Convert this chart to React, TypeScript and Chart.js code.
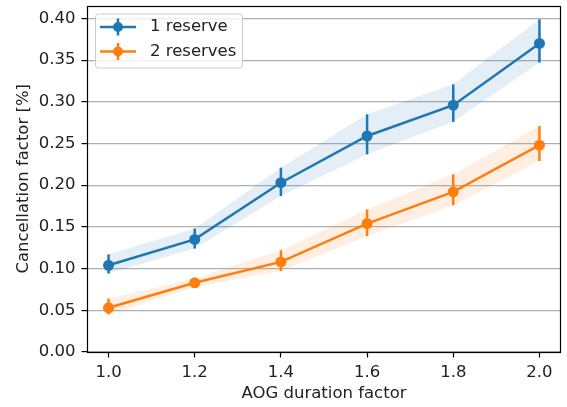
import React, { useEffect, useRef } from "react";
import { Chart, registerables } from "chart.js";

Chart.register(...registerables);

const aogFactors = [1.0, 1.2, 1.4, 1.6, 1.8, 2.0];
const reserve1Mean = [0.104, 0.135, 0.203, 0.259, 0.296, 0.37];
const reserve1Lower = [0.094, 0.124, 0.187, 0.237, 0.276, 0.347];
const reserve1Upper = [0.117, 0.148, 0.221, 0.285, 0.321, 0.399];
const reserve2Mean = [0.053, 0.083, 0.108, 0.154, 0.192, 0.248];
const reserve2Lower = [0.045, 0.078, 0.097, 0.139, 0.176, 0.229];
const reserve2Upper = [0.064, 0.088, 0.122, 0.171, 0.213, 0.271];
const xTickValues = [1.0, 1.2, 1.4, 1.6, 1.8, 2.0];
const yTickValues = [0, 0.05, 0.1, 0.15, 0.2, 0.25, 0.3, 0.35, 0.4];
const seriesLabels = ["1 reserve", "2 reserves"];

const BLUE = "#1f77b4";
const ORANGE = "#ff7f0e";
const FONT = "'DejaVu Sans', sans-serif";
const FS = 16.5;

const pts = (ys: number[]) => aogFactors.map((x, i) => ({ x, y: ys[i] }));

export default function App() {
  const ref = useRef<HTMLCanvasElement | null>(null);
  useEffect(() => {
    if (!ref.current) return;
    const errorSets = [
      { lo: reserve1Lower, hi: reserve1Upper, color: BLUE },
      { lo: reserve2Lower, hi: reserve2Upper, color: ORANGE },
    ];
    const errorPlugin = {
      id: "errbars",
      afterDatasetsDraw(chart: any) {
        const ctx = chart.ctx;
        const xs = chart.scales.x;
        const ys = chart.scales.y;
        ctx.save();
        ctx.lineWidth = 2.5;
        errorSets.forEach((s) => {
          ctx.strokeStyle = s.color;
          aogFactors.forEach((x, i) => {
            const px = xs.getPixelForValue(x);
            ctx.beginPath();
            ctx.moveTo(px, ys.getPixelForValue(s.lo[i]));
            ctx.lineTo(px, ys.getPixelForValue(s.hi[i]));
            ctx.stroke();
          });
        });
        ctx.restore();
      },
      afterDraw(chart: any) {
        const ctx = chart.ctx;
        const a = chart.chartArea;
        ctx.save();
        ctx.strokeStyle = "#000";
        ctx.lineWidth = 1.2;
        ctx.strokeRect(Math.round(a.left) + 0.5, Math.round(a.top) + 0.5, Math.round(a.right - a.left) - 1, Math.round(a.bottom - a.top) - 1);
        // legend
        const bx = a.left + 8.5, by = a.top + 8.5, bw = 147, bh = 54, r = 3;
        ctx.beginPath();
        ctx.moveTo(bx + r, by);
        ctx.lineTo(bx + bw - r, by);
        ctx.quadraticCurveTo(bx + bw, by, bx + bw, by + r);
        ctx.lineTo(bx + bw, by + bh - r);
        ctx.quadraticCurveTo(bx + bw, by + bh, bx + bw - r, by + bh);
        ctx.lineTo(bx + r, by + bh);
        ctx.quadraticCurveTo(bx, by + bh, bx, by + bh - r);
        ctx.lineTo(bx, by + r);
        ctx.quadraticCurveTo(bx, by, bx + r, by);
        ctx.closePath();
        ctx.fillStyle = "rgba(255,255,255,0.8)";
        ctx.fill();
        ctx.strokeStyle = "#cccccc";
        ctx.lineWidth = 1;
        ctx.stroke();
        const rows = [
          { y: by + 13, color: BLUE, label: seriesLabels[0] },
          { y: by + 37.5, color: ORANGE, label: seriesLabels[1] },
        ];
        rows.forEach((row) => {
          ctx.strokeStyle = row.color;
          ctx.fillStyle = row.color;
          ctx.lineWidth = 2.5;
          ctx.beginPath();
          ctx.moveTo(bx + 4.5, row.y);
          ctx.lineTo(bx + 40.5, row.y);
          ctx.moveTo(bx + 22.5, row.y - 8.5);
          ctx.lineTo(bx + 22.5, row.y + 8.5);
          ctx.stroke();
          ctx.beginPath();
          ctx.arc(bx + 22.5, row.y, 5, 0, Math.PI * 2);
          ctx.fill();
          ctx.fillStyle = "#222";
          ctx.font = `${FS}px ${FONT}`;
          ctx.textBaseline = "middle";
          ctx.textAlign = "left";
          ctx.fillText(row.label, bx + 54.5, row.y);
        });
        ctx.restore();
      },
    };
    const bandStyle = (color: string) => ({
      borderWidth: 0,
      pointRadius: 0,
      borderColor: "transparent",
      backgroundColor: color,
    });
    const chart = new Chart(ref.current, {
      type: "line",
      data: {
        datasets: [
          { label: "b1lo", data: pts(reserve1Lower), fill: false, ...bandStyle("rgba(31,119,180,0.12)") },
          { label: "b1hi", data: pts(reserve1Upper), fill: "-1", ...bandStyle("rgba(31,119,180,0.12)") },
          { label: "b2lo", data: pts(reserve2Lower), fill: false, ...bandStyle("rgba(255,127,14,0.12)") },
          { label: "b2hi", data: pts(reserve2Upper), fill: "-1", ...bandStyle("rgba(255,127,14,0.12)") },
          {
            label: seriesLabels[0],
            data: pts(reserve1Mean),
            borderColor: BLUE,
            backgroundColor: BLUE,
            borderWidth: 2.5,
            pointRadius: 5.5,
            pointBorderWidth: 0,
            fill: false,
          },
          {
            label: seriesLabels[1],
            data: pts(reserve2Mean),
            borderColor: ORANGE,
            backgroundColor: ORANGE,
            borderWidth: 2.5,
            pointRadius: 5.5,
            pointBorderWidth: 0,
            fill: false,
          },
        ],
      },
      options: {
        animation: false,
        responsive: false,
        devicePixelRatio: 1,
        layout: { padding: { top: 3, right: 6, left: 0, bottom: 0 } },
        plugins: { legend: { display: false }, tooltip: { enabled: false } },
        elements: { line: { tension: 0 } },
        scales: {
          x: {
            type: "linear",
            min: 0.95,
            max: 2.05,
            afterBuildTicks: (s: any) => {
              s.ticks = xTickValues.map((v) => ({ value: v }));
            },
            afterFit: (s: any) => {
              s.height = 55;
              s.paddingLeft = 0;
              s.paddingRight = 0;
            },
            grid: { drawOnChartArea: false, drawTicks: true, tickLength: 5.5, tickColor: "#000", tickWidth: 1.2 },
            border: { display: false },
            ticks: {
              color: "#222",
              font: { family: FONT, size: FS },
              padding: 5,
              maxRotation: 0,
              callback: (v: any) => Number(v).toFixed(1),
            },
            title: {
              display: true,
              text: "AOG duration factor",
              color: "#222",
              font: { family: FONT, size: FS },
              padding: { top: 0, bottom: 3 },
            },
          },
          y: {
            type: "linear",
            min: 0,
            max: 0.4155,
            afterBuildTicks: (s: any) => {
              s.ticks = yTickValues.map((v) => ({ value: v }));
            },
            afterFit: (s: any) => {
              s.width = 87;
              s.paddingTop = 0;
              s.paddingBottom = 0;
            },
            grid: { color: "#b0b0b0", lineWidth: 1.2, drawTicks: true, tickLength: 5.5, tickColor: "#000", tickWidth: 1.2 },
            border: { display: false },
            ticks: {
              color: "#222",
              font: { family: FONT, size: FS },
              padding: 6,
              callback: (v: any) => Number(v).toFixed(2),
            },
            title: {
              display: true,
              text: "Cancellation factor [%]",
              color: "#222",
              font: { family: FONT, size: FS },
              padding: { top: 14, bottom: 0 },
            },
          },
        },
      },
      plugins: [errorPlugin],
    });
    return () => chart.destroy();
  }, []);
  return (
    <div style={{ position: "absolute", left: 0, top: 0, width: 567, height: 407, background: "#fff" }}>
      <canvas ref={ref} width={567} height={407} />
    </div>
  );
}
